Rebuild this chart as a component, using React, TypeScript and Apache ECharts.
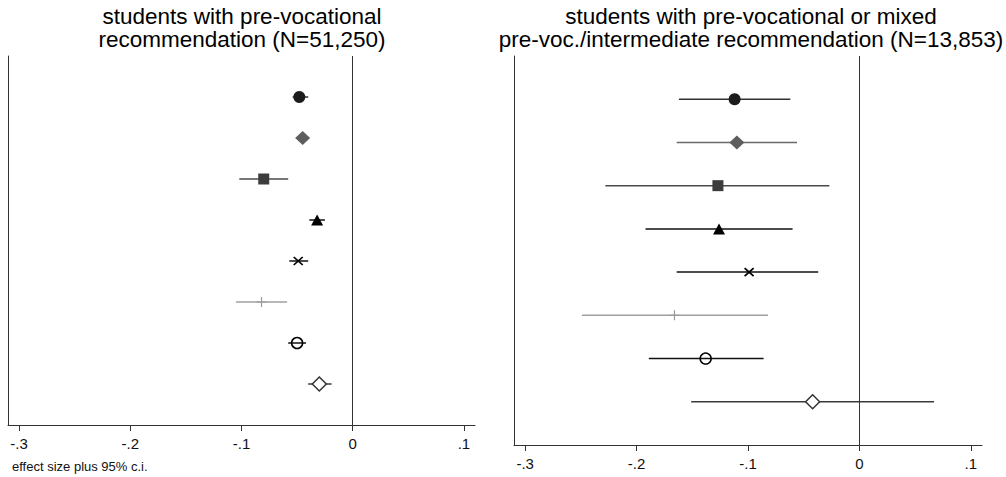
import React, { useEffect, useRef } from "react";
import * as echarts from "echarts";

// rows (top to bottom), one per estimate
const rows = [1, 2, 3, 4, 5, 6, 7, 8];

// left panel: students with pre-vocational recommendation (N=51,250)
const leftEst = [-0.048, -0.045, -0.080, -0.032, -0.049, -0.082, -0.050, -0.030];
const leftLo = [-0.054, -0.049, -0.102, -0.039, -0.057, -0.105, -0.058, -0.040];
const leftHi = [-0.040, -0.041, -0.058, -0.025, -0.040, -0.059, -0.042, -0.019];

// right panel: pre-vocational or mixed pre-voc./intermediate (N=13,853)
const rightEst = [-0.112, -0.110, -0.127, -0.126, -0.099, -0.166, -0.138, -0.042];
const rightLo = [-0.162, -0.164, -0.228, -0.192, -0.164, -0.249, -0.189, -0.151];
const rightHi = [-0.062, -0.056, -0.027, -0.060, -0.037, -0.082, -0.086, 0.067];

const tickValues = [-0.3, -0.2, -0.1, 0, 0.1];
const tickLabels = ["-.3", "-.2", "-.1", "0", ".1"];

const leftTitle = "students with pre-vocational\nrecommendation (N=51,250)";
const rightTitle =
  "students with pre-vocational or mixed\npre-voc./intermediate recommendation (N=13,853)";
const note = "effect size plus 95% c.i.";

// marker styles per row
const markerStyles = [
  { symbol: "circle", size: 12, fill: "#1c1c1c", stroke: "#1c1c1c", bw: 0 },
  { symbol: "diamond", size: [15, 14], fill: "#5e5e5e", stroke: "#5e5e5e", bw: 0 },
  { symbol: "rect", size: 11, fill: "#3c3c3c", stroke: "#3c3c3c", bw: 0 },
  { symbol: "triangle", size: [12, 11], fill: "#000", stroke: "#000", bw: 0 },
  { symbol: "path://M0,0L10,10M0,10L10,0", size: [9, 8], fill: "none", stroke: "#000", bw: 1.6 },
  { symbol: "path://M5,0L5,10M0,5L10,5", size: [10, 10], fill: "none", stroke: "#9a9a9a", bw: 1.2 },
  { symbol: "circle", size: 11, fill: "rgba(255,255,255,0)", stroke: "#000", bw: 1.5 },
  { symbol: "diamond", size: [14, 14], fill: "#fff", stroke: "#333", bw: 1.5 },
];
const ciColors = ["#333", "#6a6a6a", "#4a4a4a", "#111", "#111", "#a0a0a0", "#111", "#3a3a3a"];

const FONT = '"Liberation Sans", Arial, Helvetica, sans-serif';

function fmtTick(v: number) {
  let best = 0;
  tickValues.forEach((t, i) => {
    if (Math.abs(t - v) < Math.abs(tickValues[best] - v)) best = i;
  });
  return tickLabels[best];
}

function panelSeries(idx: number, est: number[], lo: number[], hi: number[]) {
  const ciData = rows.map((r, i) => [lo[i], hi[i], r]);
  const series: any[] = [
    {
      type: "custom",
      xAxisIndex: idx,
      yAxisIndex: idx,
      z: 2,
      data: ciData,
      encode: { x: [0, 1], y: 2 },
      renderItem: (params: any, api: any) => {
        const a = api.coord([api.value(0), api.value(2)]);
        const b = api.coord([api.value(1), api.value(2)]);
        return {
          type: "line",
          shape: { x1: a[0], y1: a[1], x2: b[0], y2: b[1] },
          style: { stroke: ciColors[params.dataIndex], lineWidth: 1.5 },
        };
      },
      markLine: {
        silent: true,
        symbol: "none",
        label: { show: false },
        lineStyle: { type: "solid", color: "#333", width: 1 },
        data: [{ xAxis: 0 }],
      },
    },
  ];
  rows.forEach((r, i) => {
    const m = markerStyles[i];
    series.push({
      type: "scatter",
      xAxisIndex: idx,
      yAxisIndex: idx,
      z: 5,
      symbol: m.symbol,
      symbolSize: m.size,
      itemStyle: { color: m.fill, borderColor: m.stroke, borderWidth: m.bw, opacity: 1 },
      data: [[est[i], r]],
    });
  });
  return series;
}

function axisPair(idx: number) {
  return {
    x: {
      type: "value",
      gridIndex: idx,
      position: "bottom",
      min: -0.31,
      max: 0.11,
      splitLine: { show: false },
      axisLine: { show: true, onZero: false, lineStyle: { color: "#333", width: 1 } },
      axisTick: {
        show: true,
        customValues: tickValues,
        length: 6,
        lineStyle: { color: "#333", width: 1 },
      },
      axisLabel: {
        customValues: tickValues,
        formatter: (v: number) => fmtTick(v),
        color: "#111",
        fontSize: 15,
        fontFamily: FONT,
        margin: 11,
      },
    },
    y: {
      type: "value",
      gridIndex: idx,
      position: "left",
      min: 0,
      max: 9,
      inverse: true,
      splitLine: { show: false },
      axisLine: { show: true, onZero: false, lineStyle: { color: "#333", width: 1 } },
      axisTick: { show: false },
      axisLabel: { show: false },
    },
  };
}

export default function App() {
  const ref = useRef<HTMLDivElement>(null);
  useEffect(() => {
    if (!ref.current) return;
    const chart = echarts.init(ref.current, undefined, { renderer: "svg" });
    const a0 = axisPair(0);
    const a1 = axisPair(1);
    chart.setOption({
      animation: false,
      backgroundColor: "#fff",
      grid: [
        { left: 8, top: 56, width: 467, height: 369 },
        { left: 514, top: 56, width: 468, height: 389 },
      ],
      xAxis: [a0.x, a1.x],
      yAxis: [a0.y, a1.y],
      series: [
        ...panelSeries(0, leftEst, leftLo, leftHi),
        ...panelSeries(1, rightEst, rightLo, rightHi),
      ],
      graphic: [
        {
          type: "text",
          x: 242,
          y: 28,
          style: {
            text: leftTitle,
            fill: "#000",
            fontSize: 22.5,
            fontFamily: FONT,
            lineHeight: 23,
            align: "center",
            verticalAlign: "middle",
          },
        },
        {
          type: "text",
          x: 751,
          y: 28,
          style: {
            text: rightTitle,
            fill: "#000",
            fontSize: 22.5,
            fontFamily: FONT,
            lineHeight: 23,
            align: "center",
            verticalAlign: "middle",
          },
        },
        {
          type: "text",
          x: 12,
          y: 466,
          style: {
            text: note,
            fill: "#111",
            fontSize: 13,
            fontFamily: FONT,
            align: "left",
            verticalAlign: "middle",
          },
        },
      ],
    });
    return () => chart.dispose();
  }, []);
  return (
    <div
      ref={ref}
      style={{ position: "fixed", left: 0, top: 0, width: 1006, height: 477, background: "#fff" }}
    />
  );
}
